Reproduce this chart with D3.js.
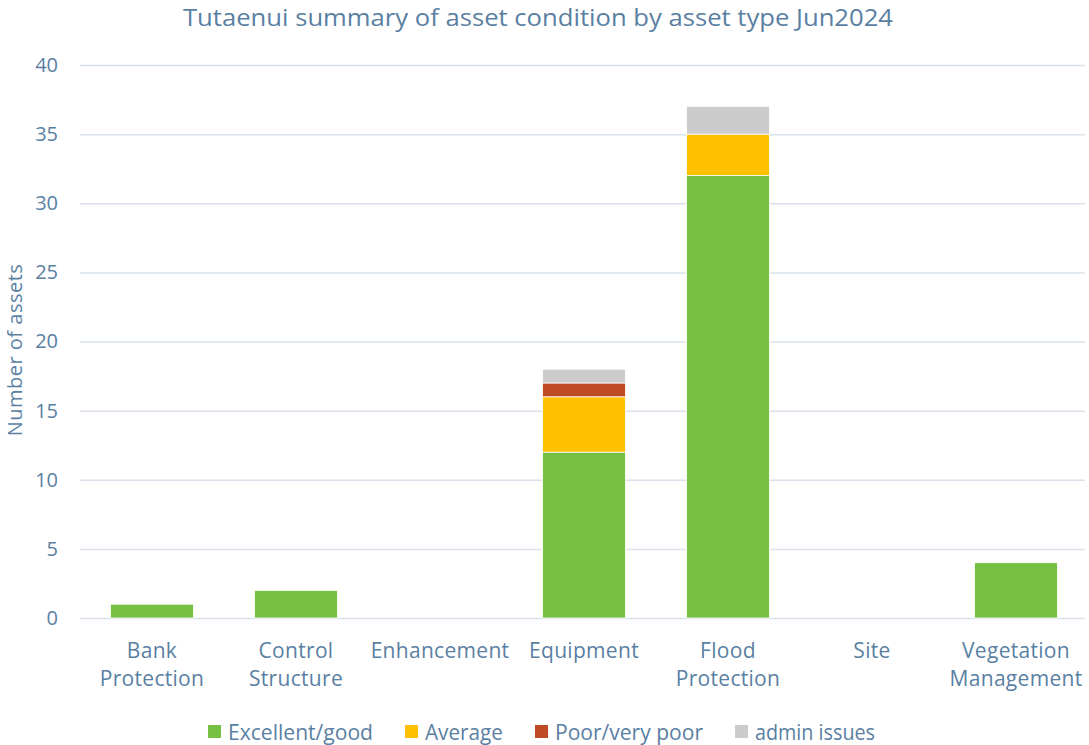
<!DOCTYPE html>
<html>
<head>
<meta charset="utf-8">
<script src="https://cdn.jsdelivr.net/npm/d3@7"></script>
<style>
  body { margin: 0; background: #fff; }
  svg text { font-family: "Open Sans", "DejaVu Sans", sans-serif; fill: #5a7fa3; }
</style>
</head>
<body>
<svg id="chart"></svg>
<script>
// data
var categories = ["Bank Protection", "Control Structure", "Enhancement", "Equipment", "Flood Protection", "Site", "Vegetation Management"];
var seriesNames = ["Excellent/good", "Average", "Poor/very poor", "admin issues"];
var excellent = [1, 2, 0, 12, 32, 0, 4];
var average = [0, 0, 0, 4, 3, 0, 0];
var poor = [0, 0, 0, 1, 0, 0, 0];
var admin = [0, 0, 0, 1, 2, 0, 0];
var yTicks = [0, 5, 10, 15, 20, 25, 30, 35, 40];
var colors = ["#76c043", "#ffc000", "#bf4b24", "#cccccd"];

var svgWidth = 1089, svgHeight = 745;
var margin = { top: 65, right: 4, bottom: 127, left: 80 };
var width = svgWidth - margin.left - margin.right;
var height = svgHeight - margin.top - margin.bottom;

var svg = d3.select("#chart")
  .attr("width", svgWidth)
  .attr("height", svgHeight);

var chart = svg.append("g")
  .attr("transform", `translate(${margin.left}, ${margin.top})`);

var x = d3.scaleBand()
  .domain(categories)
  .range([0, 1008])
  .paddingInner(0.425)
  .paddingOuter(0.2125);

var y = d3.scaleLinear()
  .domain([0, 40])
  .range([height, 0]);

// grid lines
chart.append("g")
  .call(d3.axisLeft(y).tickValues(yTicks).tickSize(-width).tickFormat(""))
  .call(g => g.select(".domain").remove())
  .selectAll("line")
  .attr("stroke", "#d9e2ea")
  .attr("stroke-width", 1.5);

// y tick labels
chart.append("g")
  .call(d3.axisLeft(y).tickValues(yTicks).tickSize(0).tickPadding(22))
  .call(g => g.select(".domain").remove())
  .selectAll("text")
  .attr("font-size", "20px")
  .attr("fill", "#5a7fa3")
  .style("font-family", "'Open Sans', sans-serif");

// stacked data
var table = categories.map((c, i) => ({
  cat: c, e: excellent[i], a: average[i], p: poor[i], d: admin[i]
}));
var stack = d3.stack().keys(["e", "a", "p", "d"])(table);

chart.selectAll(".layer")
  .data(stack)
  .enter()
  .append("g")
  .attr("fill", (d, i) => colors[i])
  .selectAll("rect")
  .data(d => d)
  .enter()
  .append("rect")
  .filter(d => d[1] - d[0] > 0)
  .attr("x", d => x(d.data.cat))
  .attr("y", d => y(d[1]))
  .attr("height", d => y(d[0]) - y(d[1]))
  .attr("width", x.bandwidth())
  .attr("stroke", "#ffffff")
  .attr("stroke-width", 0.8);

// x labels
var xl = chart.append("g")
  .attr("transform", `translate(0, ${height})`);
categories.forEach(function (c) {
  var words = c.split(" ");
  var t = xl.append("text")
    .attr("x", x(c) + x.bandwidth() / 2)
    .attr("y", 40)
    .attr("text-anchor", "middle")
    .attr("font-size", "21px")
    .attr("letter-spacing", "0.3px");
  words.forEach(function (w, i) {
    t.append("tspan")
      .attr("x", x(c) + x.bandwidth() / 2)
      .attr("dy", i === 0 ? 0 : 28)
      .text(w);
  });
});

// title
svg.append("text")
  .attr("x", 538)
  .attr("y", 26)
  .attr("text-anchor", "middle")
  .attr("font-size", "24px")
  .attr("textLength", 710)
  .attr("lengthAdjust", "spacingAndGlyphs")
  .text("Tutaenui summary of asset condition by asset type Jun2024");

// y axis title
svg.append("text")
  .attr("transform", "rotate(-90)")
  .attr("x", -350)
  .attr("y", 22)
  .attr("text-anchor", "middle")
  .attr("font-size", "20px")
  .attr("letter-spacing", "0.5px")
  .text("Number of assets");

// legend
var legendX = [208, 405, 535, 735];
var legendLen = [145, 78, 148, 120];
var legend = svg.append("g");
seriesNames.forEach(function (s, i) {
  legend.append("rect")
    .attr("x", legendX[i])
    .attr("y", 725)
    .attr("width", 13)
    .attr("height", 13)
    .attr("fill", colors[i]);
  legend.append("text")
    .attr("x", legendX[i] + 20)
    .attr("y", 740)
    .attr("font-size", "21px")
    .attr("textLength", legendLen[i])
    .attr("lengthAdjust", "spacingAndGlyphs")
    .text(s);
});
</script>
</body>
</html>
